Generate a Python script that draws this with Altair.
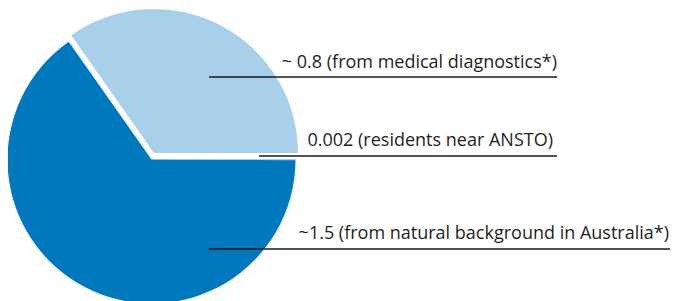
import math
import altair as alt
import pandas as pd

# ---- data ----
categories = ["residents near ANSTO", "natural background", "medical diagnostics"]
values = [0.002, 1.5, 0.8]
stack_order = [0, 1, 2]
label_texts = [
    "~ 0.8 (from medical diagnostics*)",
    "0.002 (residents near ANSTO)",
    "~1.5 (from natural background in Australia*)",
]

# ---- styles / layout ----
colors = ["#5A9FD4", "#0078BE", "#A9D0EA"]
RADIUS = 144
MAIN_CENTER = (143.5, 151.5)
EXPLODED_CENTER = (146, 145)
text_x = [549, 545, 661]
text_y = [60, 138, 231]
line_x1 = [201, 251, 201]
line_x2 = [549, 549, 662]
line_y = [69, 148, 241]

df = pd.DataFrame({"category": categories, "value": values, "ord": stack_order})

base = alt.Chart(df).encode(
    theta=alt.Theta(
        "value:Q",
        stack=True,
        scale=alt.Scale(range=[math.pi / 2, math.pi / 2 + 2 * math.pi]),
    ),
    order=alt.Order("ord:Q"),
    color=alt.Color(
        "category:N",
        scale=alt.Scale(domain=categories, range=colors),
        legend=None,
    ),
)

is_exploded = alt.datum.category == "medical diagnostics"

main = base.mark_arc(radius=RADIUS).encode(
    x=alt.value(MAIN_CENTER[0]),
    y=alt.value(MAIN_CENTER[1]),
    opacity=alt.condition(is_exploded, alt.value(0), alt.value(1)),
)

exploded = base.mark_arc(radius=RADIUS).encode(
    x=alt.value(EXPLODED_CENTER[0]),
    y=alt.value(EXPLODED_CENTER[1]),
    opacity=alt.condition(is_exploded, alt.value(1), alt.value(0)),
)

lab = pd.DataFrame({
    "label": label_texts,
    "tx": text_x,
    "ty": text_y,
    "lx1": line_x1,
    "lx2": line_x2,
    "ly": line_y,
})

rules = alt.Chart(lab).mark_rule(color="#1a1a1a", strokeWidth=1.6).encode(
    x=alt.X("lx1:Q", scale=None),
    x2="lx2:Q",
    y=alt.Y("ly:Q", scale=None),
)

texts = alt.Chart(lab).mark_text(
    align="right",
    baseline="alphabetic",
    font="Open Sans",
    fontSize=18,
    color="#231f20",
).encode(
    x=alt.X("tx:Q", scale=None),
    y=alt.Y("ty:Q", scale=None),
    text="label:N",
)

chart = alt.layer(main, exploded, rules, texts).properties(
    width=662,
    height=293,
    padding=0,
    autosize=alt.AutoSizeParams(type="none"),
).configure_view(stroke=None)

chart.save("out.html", embed_options={"renderer": "svg", "actions": False})
